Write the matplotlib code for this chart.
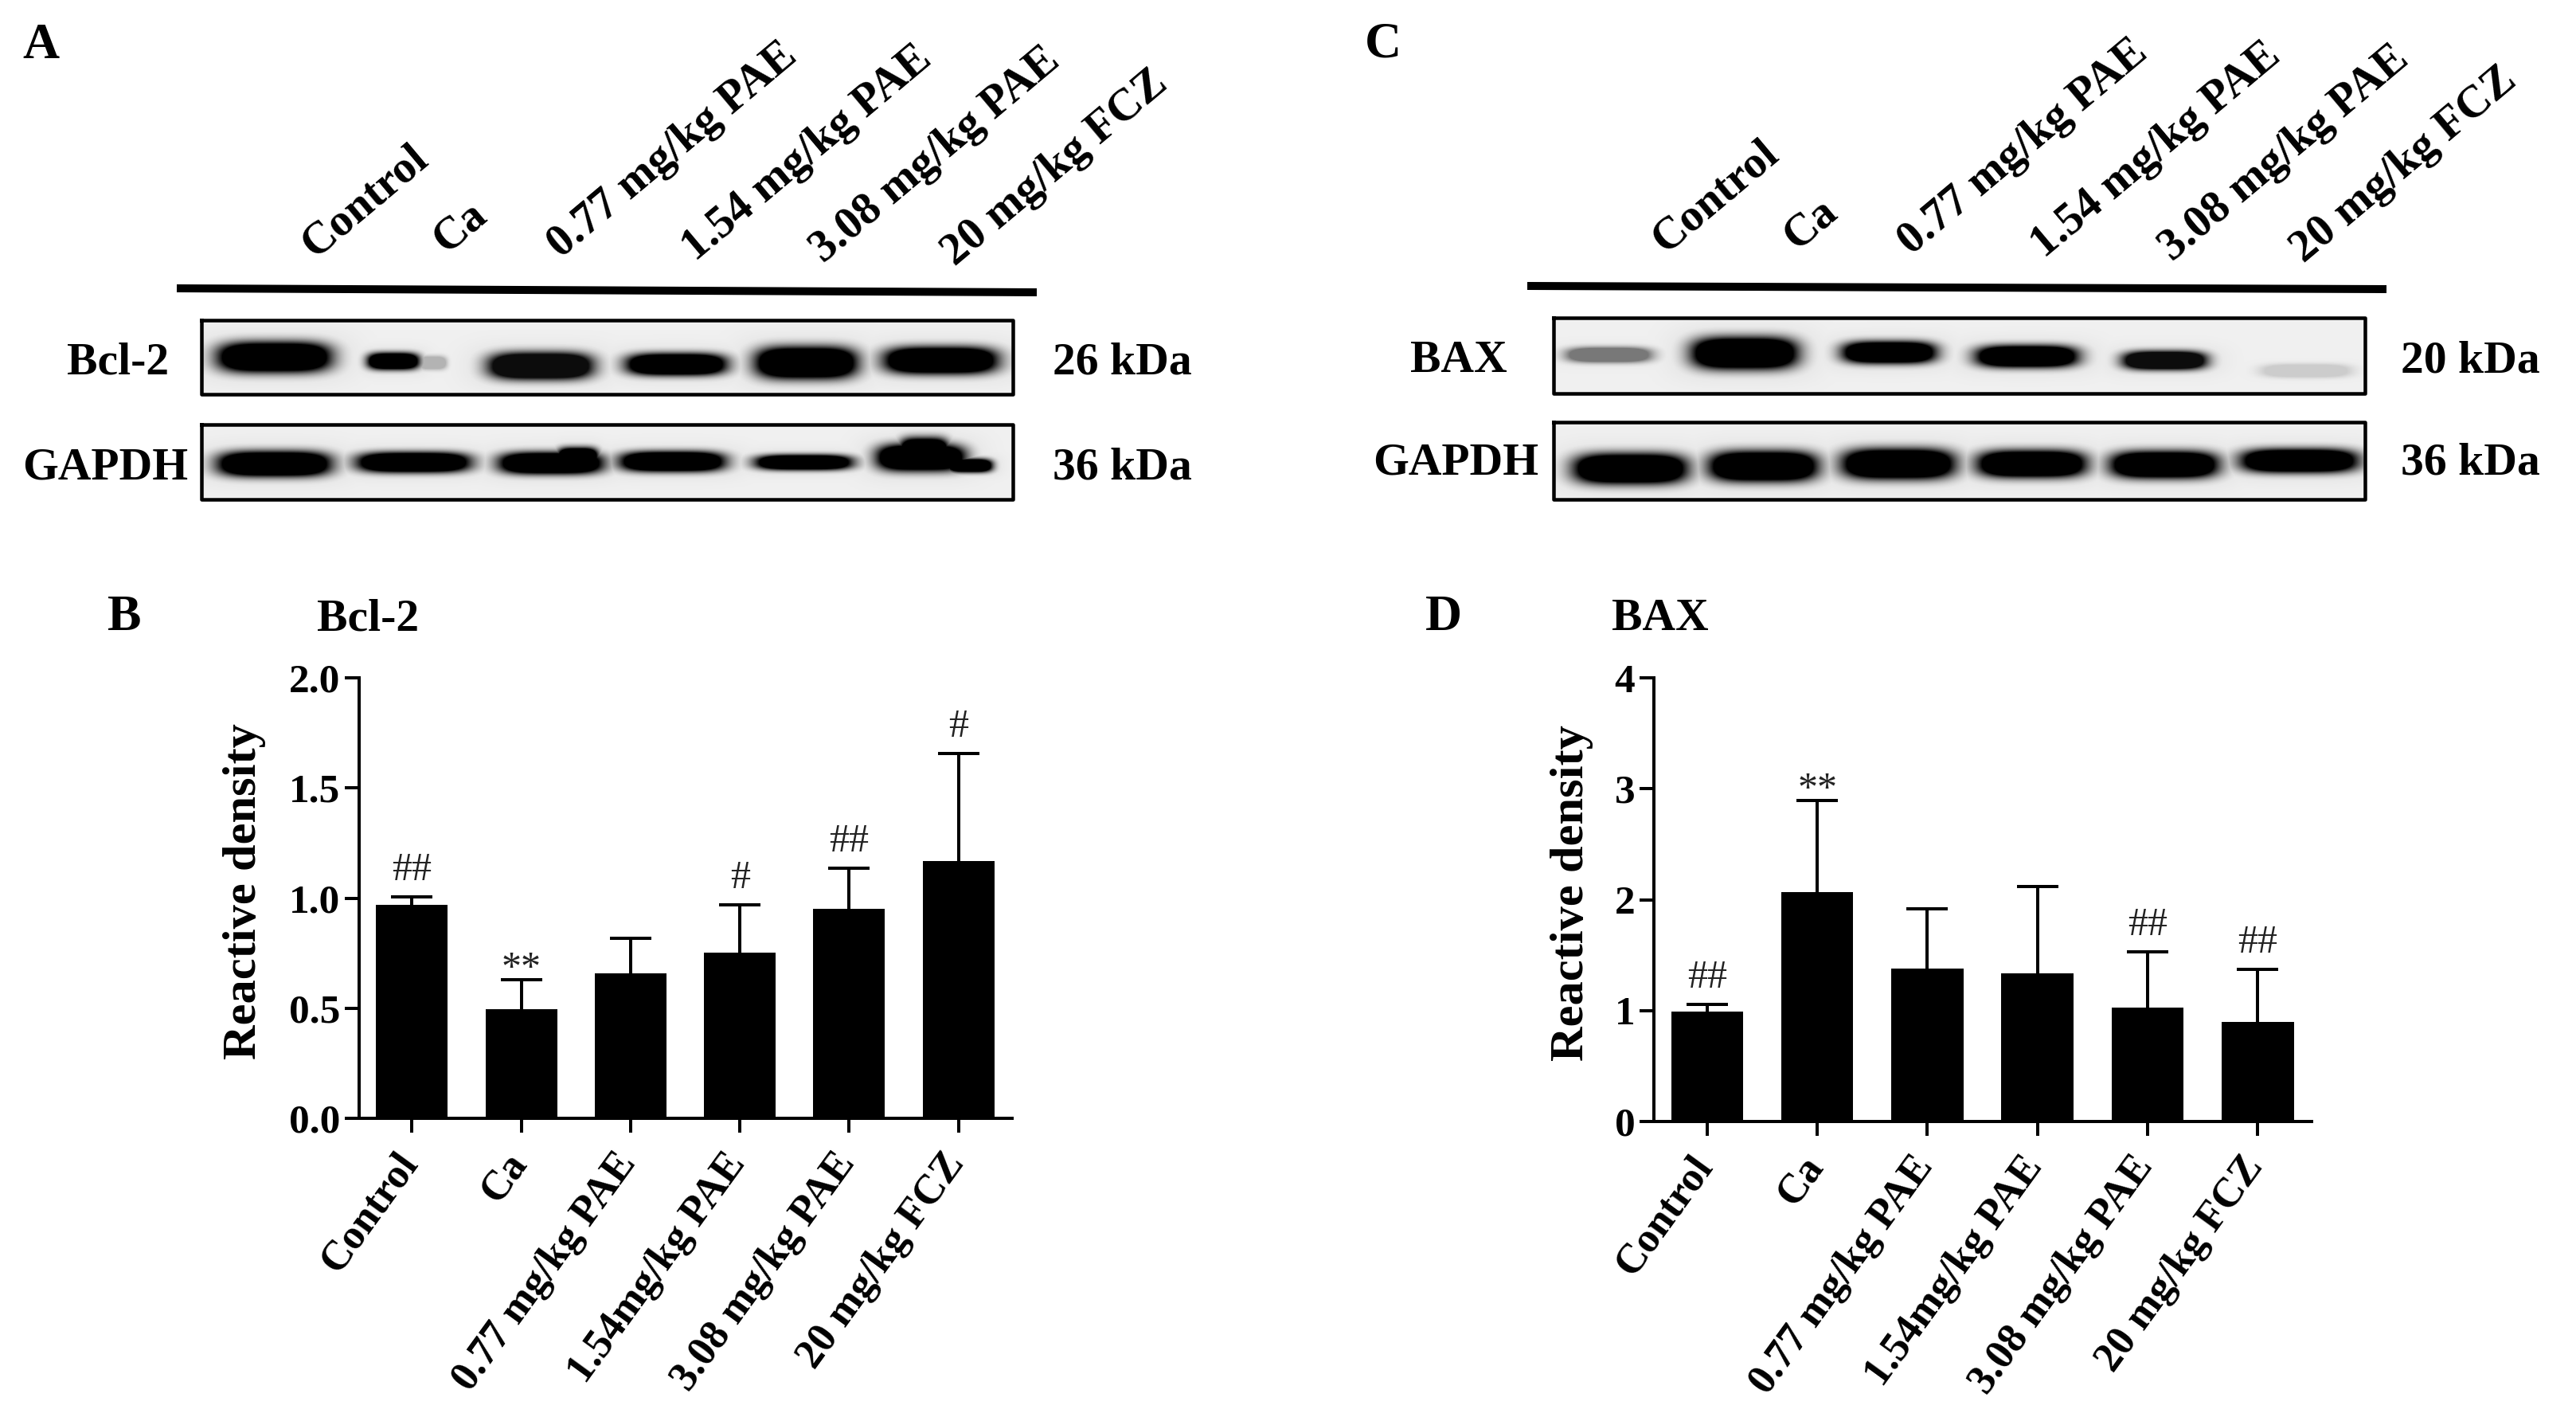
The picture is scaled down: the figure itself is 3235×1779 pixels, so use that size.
import numpy as np
from matplotlib import pyplot as plt
from matplotlib.transforms import ScaledTranslation

plt.rcParams['font.family'] = ['Liberation Serif', 'DejaVu Serif']
plt.rcParams['font.weight'] = 'bold'

W, H = 3235, 1779
PX = 72.0 / 100.0  # one pixel in points at dpi 100

groups = ['Control', 'Ca', '0.77 mg/kg PAE', '1.54mg/kg PAE', '3.08 mg/kg PAE', '20 mg/kg FCZ']
blot_labels = ['Control', 'Ca', '0.77 mg/kg PAE', '1.54 mg/kg PAE', '3.08 mg/kg PAE', '20 mg/kg FCZ']

bcl2_mean = [0.97, 0.496, 0.657, 0.753, 0.95, 1.168]
bcl2_top = [1.007, 0.628, 0.818, 0.969, 1.137, 1.657]
bcl2_marks = ['##', '**', '', '#', '##', '#']

bax_mean = [0.99, 2.07, 1.38, 1.333, 1.03, 0.895]
bax_top = [1.057, 2.895, 1.914, 2.12, 1.533, 1.371]
bax_marks = ['##', '**', '', '', '##', '##']

# western blot bands: x start, x end, y centre, half height, darkness
bands_bcl2 = [(275, 413, 448, 15, 1.0), (462, 525, 453, 7, 1.0), (525, 560, 455, 5, 0.25),
              (615, 742, 459, 13, 0.95), (788, 910, 457, 10, 1.0), (950, 1074, 455, 16, 1.0),
              (1112, 1250, 452, 13, 1.0)]
bands_gapdh_a = [(275, 413, 582, 12, 1.0), (450, 588, 580, 9, 1.0), (628, 755, 581, 10, 1.0),
                 (700, 750, 573, 8, 1.0), (780, 908, 579, 9, 1.0), (950, 1068, 580, 6, 1.0),
                 (1102, 1210, 574, 13, 1.0), (1130, 1190, 565, 12, 1.0), (1190, 1245, 584, 5, 1.0)]
bands_bax = [(1968, 2072, 445, 6, 0.5), (2126, 2255, 443, 16, 1.0), (2315, 2429, 442, 10, 1.0),
             (2483, 2607, 447, 10, 1.0), (2667, 2769, 452, 8, 0.95), (2841, 2950, 465, 5, 0.15)]
bands_gapdh_c = [(1978, 2116, 588, 15, 1.0), (2148, 2280, 585, 15, 1.0), (2315, 2452, 582, 15, 1.0),
                 (2485, 2617, 582, 13, 1.0), (2652, 2783, 583, 13, 1.0), (2816, 2958, 578, 11, 1.0)]


def draw_blot(ax, box, bands):
    # soft band blobs on a light grey membrane
    x0, x1, y0, y1 = box
    xx, yy = np.meshgrid(np.arange(x0, x1), np.arange(y0, y1))
    ink = np.zeros(xx.shape)
    for a, b, yc, hh, dark in bands:
        cx, hw = (a + b) / 2.0, (b - a) / 2.0
        r = ((np.abs(xx - cx) / hw) ** 4 + (np.abs(yy - yc) / (hh + 3.0)) ** 2.5) ** (1 / 2.5)
        core = np.clip(2.2 * np.exp(-r ** 2.5), 0, 1)
        halo = 0.12 * np.exp(-(r / 1.5) ** 2)
        ink = np.maximum(ink, dark * np.maximum(core, halo))
    img = 0.94 * (1 - ink)
    ax.imshow(img, cmap='gray', vmin=0, vmax=1, extent=(x0, x1, y1, y0), aspect='auto',
              interpolation='bilinear', zorder=1)
    ax.plot([x0, x1, x1, x0, x0], [y0, y0, y1, y1, y0], color='k', lw=4.5 * PX, zorder=2)


def draw_bars(fig, box, means, tops, marks, ylim, yticks, yfmt, label_x):
    x0, x1, y0, y1 = box  # pixels: left, right, top, bottom
    ax = fig.add_axes([x0 / W, 1 - y1 / H, (x1 - x0) / W, (y1 - y0) / H])
    pos = np.arange(len(means))
    ax.bar(pos, means, width=0.655, color='k', zorder=3)
    err = ax.errorbar(pos, means, yerr=[np.zeros(len(means)), np.array(tops) - np.array(means)],
                      fmt='none', ecolor='k', elinewidth=4 * PX, capsize=26 * PX, capthick=4 * PX,
                      zorder=2)
    err[1][0].set_visible(False)  # no lower cap on the bar top
    ax.set_xlim(-0.483, 5.49)
    ax.set_ylim(*ylim)
    ax.set_yticks(yticks)
    ax.set_yticklabels([yfmt.format(v) for v in yticks], fontsize=37, fontweight='bold')
    ax.set_xticks(pos)
    ax.tick_params(axis='both', length=18 * PX, width=4 * PX, pad=4)
    ax.tick_params(axis='x', pad=12)
    ax.set_xticklabels(groups, fontsize=37.5, fontweight='bold', rotation=54, ha='right',
                       va='top', rotation_mode='anchor')
    # tick_params resets label transforms, so the shift has to come after it
    shift = ScaledTranslation(-22 / 100.0, 0, fig.dpi_scale_trans)
    for lab in ax.get_xticklabels():
        lab.set_transform(lab.get_transform() + shift)
    ax.spines['top'].set_visible(False)
    ax.spines['right'].set_visible(False)
    ax.spines['left'].set_linewidth(4 * PX)
    ax.spines['bottom'].set_linewidth(4 * PX)
    ax.set_ylabel('Reactive density', fontsize=43.5, fontweight='bold')
    ax.yaxis.set_label_coords(label_x, 0.515)
    ax.patch.set_alpha(0)
    for i, m in enumerate(marks):
        if m:
            off = -14 if m == '**' else 6
            ax.annotate(m, (i, tops[i]), xytext=(0, (off + 4) * PX), textcoords='offset points',
                        ha='center', va='bottom', fontsize=36, fontweight='normal', color='#222222')
    return ax


fig = plt.figure(figsize=(W / 100.0, H / 100.0), dpi=100, facecolor='white')

# full figure layer in pixel coordinates for blots and labels
bg = fig.add_axes([0, 0, 1, 1])
bg.set_xlim(0, W)
bg.set_ylim(H, 0)
bg.axis('off')

draw_blot(bg, (253, 1272, 402, 495), bands_bcl2)
draw_blot(bg, (253, 1272, 533, 627), bands_gapdh_a)
draw_blot(bg, (1951, 2970, 399, 494), bands_bax)
draw_blot(bg, (1951, 2970, 530, 627), bands_gapdh_c)
bg.set_xlim(0, W)
bg.set_ylim(H, 0)

bg.plot([222, 1302], [362, 367], color='k', lw=10 * PX, solid_capstyle='butt')
bg.plot([1918, 2997], [359, 363], color='k', lw=10 * PX, solid_capstyle='butt')

start_a = [(403, 334), (568, 328), (712, 334), (881, 338), (1042, 340), (1207, 344)]
start_c = [(2099, 328), (2264, 324), (2408, 330), (2575, 334), (2736, 338), (2901, 340)]
for starts in (start_a, start_c):
    for (x, y), s in zip(starts, blot_labels):
        bg.text(x, y, s, fontsize=41, rotation=40, ha='left', va='bottom', rotation_mode='anchor')

side_labels = [(212, 456, 'Bcl-2', 'right'), (236, 588, 'GAPDH', 'right'),
               (1322, 456, '26 kDa', 'left'), (1322, 588, '36 kDa', 'left'),
               (1893, 453, 'BAX', 'right'), (1932, 582, 'GAPDH', 'right'),
               (3015, 453, '20 kDa', 'left'), (3015, 582, '36 kDa', 'left')]
for x, y, s, ha in side_labels:
    bg.text(x, y, s, fontsize=41.5, ha=ha, va='center')

letters = [(28, 58, 'A'), (1714, 56, 'C'), (135, 776, 'B'), (1790, 776, 'D')]
for x, y, s in letters:
    bg.text(x, y, s, fontsize=46, ha='left', va='center')
bg.text(398, 777, 'Bcl-2', fontsize=41.5, ha='left', va='center')
bg.text(2024, 777, 'BAX', fontsize=41.5, ha='left', va='center')

draw_bars(fig, (451, 1271, 851, 1404), bcl2_mean, bcl2_top, bcl2_marks, (0, 2.0),
          [0.0, 0.5, 1.0, 1.5, 2.0], '{:.1f}', -0.143)
draw_bars(fig, (2077, 2903, 851, 1408), bax_mean, bax_top, bax_marks, (0, 4),
          [0, 1, 2, 3, 4], '{:d}', -0.092)

fig.savefig('out.png', dpi=100, facecolor='white')
